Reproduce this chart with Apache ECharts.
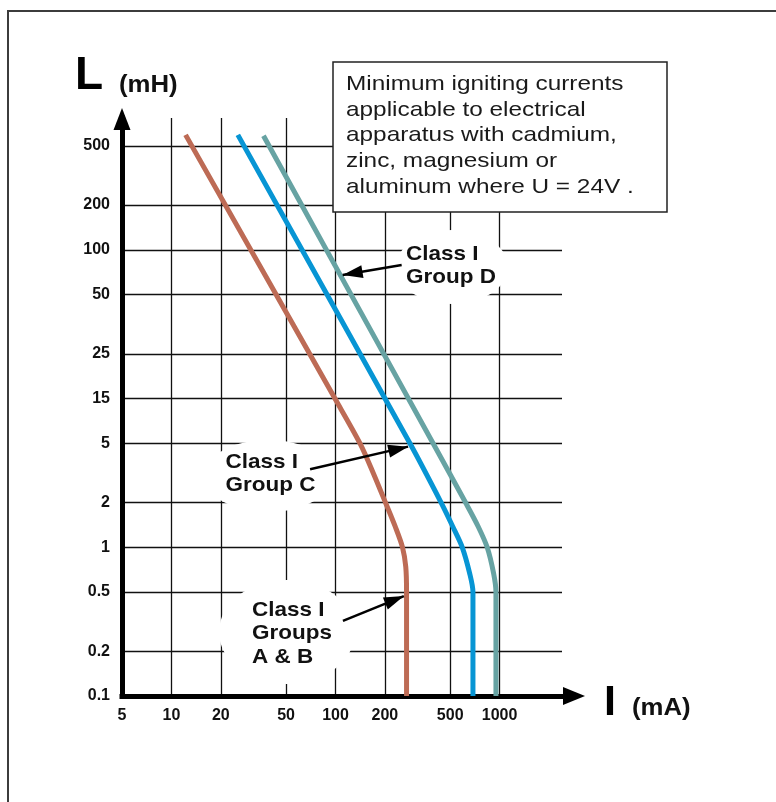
<!DOCTYPE html>
<html>
<head>
<meta charset="utf-8">
<title>Minimum igniting currents</title>
<script src="https://cdn.jsdelivr.net/npm/echarts@6.0.0/dist/echarts.min.js"></script>
<style>
  html, body { margin: 0; padding: 0; background: #fff; }
  #chart { width: 776px; height: 802px; }
</style>
</head>
<body>
<div id="chart"></div>
<script>
// I (mA) against L (mH)
const groupsAB = [[12.2, 593], [99.2, 10], [141, 5], [170, 3.15], [203, 1.96], [231, 1.38],
    [256, 1], [268, 0.74], [271, 0.5], [271, 0.1]];
const groupC = [[25.4, 593], [284, 5], [444, 1.96], [518, 1.38], [592, 1], [657, 0.668],
    [688, 0.5], [688, 0.1]];
const groupD = [[36.4, 585], [393, 5], [626, 1.96], [740, 1.38], [840, 1], [919, 0.668],
    [950, 0.5], [950, 0.1]];

// arrows from the labels to the curves, [from, to] in data units
const arrowD = [[253, 79.1], [110.6, 67.8]];
const arrowC = [[70, 3.35], [277, 4.75]];
const arrowAB = [[111, 0.32], [261, 0.47]];

// ticks
const xGridValues = [10, 20, 50, 100, 200, 500, 1000];
const xLabelValues = [5, 10, 20, 50, 100, 200, 500, 1000];
const yGridValues = [0.2, 0.5, 1, 2, 5, 10, 20, 50, 100, 200, 500];
const yLabelValues = [0.1, 0.2, 0.5, 1, 2, 5, 10, 20, 50, 100, 200, 500];
const yLabelTexts = ['0.1', '0.2', '0.5', '1', '2', '5', '15', '25', '50', '100', '200', '500'];

const boxLines = [
    'Minimum igniting currents',
    'applicable to electrical',
    'apparatus with cadmium,',
    'zinc, magnesium or',
    'aluminum where U = 24V .'
];

const FONT = '"Liberation Sans", Arial, Helvetica, sans-serif';

function yLabel(v) {
    let best = 0;
    for (let i = 1; i < yLabelValues.length; i++) {
        if (Math.abs(Math.log(v / yLabelValues[i])) < Math.abs(Math.log(v / yLabelValues[best]))) best = i;
    }
    return yLabelTexts[best];
}

function arrowLine(a) {
    return [
        { coord: a[0], symbol: 'none' },
        { coord: a[1], symbol: 'triangle', symbolSize: [13, 20], symbolOffset: [0, 10] }
    ];
}

const chart = echarts.init(document.getElementById('chart'));

const option = {
    animation: false,
    backgroundColor: '#fff',
    textStyle: { fontFamily: FONT },
    grid: { left: 122, right: 214, top: 118, bottom: 106, outerBoundsMode: 'none' },
    xAxis: {
        type: 'log',
        logBase: 10,
        min: 5,
        max: 2400,
        axisLine: {
            show: true,
            onZero: false,
            lineStyle: { color: '#000', width: 5, cap: 'square' },
            symbol: ['none', 'triangle'],
            symbolSize: [18, 22],
            symbolOffset: [0, 12]
        },
        axisTick: { show: false, customValues: xGridValues },
        axisLabel: {
            customValues: xLabelValues,
            margin: 12,
            color: '#111',
            fontSize: 16,
            fontWeight: 'bold',
            fontFamily: FONT,
            formatter: v => String(Math.round(v))
        },
        splitLine: { show: true, lineStyle: { color: '#111', width: 1.3 } },
        minorTick: { show: false },
        minorSplitLine: { show: false }
    },
    yAxis: {
        type: 'log',
        logBase: 10,
        min: 0.1,
        max: 770,
        axisLine: {
            show: true,
            onZero: false,
            lineStyle: { color: '#000', width: 5, cap: 'square' },
            symbol: ['none', 'triangle'],
            symbolSize: [17, 22],
            symbolOffset: [0, -1]
        },
        axisTick: { show: false, customValues: yGridValues },
        axisLabel: {
            customValues: yLabelValues,
            margin: 12,
            color: '#111',
            fontSize: 16,
            fontWeight: 'bold',
            fontFamily: FONT,
            formatter: yLabel
        },
        splitLine: { show: true, lineStyle: { color: '#111', width: 1.3 } },
        minorTick: { show: false },
        minorSplitLine: { show: false }
    },
    series: [
        {
            name: 'Class I Groups A & B',
            type: 'line',
            data: groupsAB,
            smooth: 0.3,
            symbol: 'none',
            lineStyle: { color: '#bd6b55', width: 5 },
            markLine: {
                silent: true,
                symbol: ['none', 'triangle'],
                label: { show: false },
                lineStyle: { color: '#000', width: 2.5, type: 'solid' },
                data: [arrowLine(arrowD), arrowLine(arrowC), arrowLine(arrowAB)]
            }
        },
        {
            name: 'Class I Group C',
            type: 'line',
            data: groupC,
            smooth: 0.3,
            symbol: 'none',
            lineStyle: { color: '#0795d4', width: 5 }
        },
        {
            name: 'Class I Group D',
            type: 'line',
            data: groupD,
            smooth: 0.3,
            symbol: 'none',
            lineStyle: { color: '#67a3a3', width: 5 }
        }
    ],
    graphic: [
        // frame
        { type: 'line', z: 5, shape: { x1: 7, y1: 11, x2: 776, y2: 11 }, style: { stroke: '#3c3c3c', lineWidth: 2 } },
        { type: 'line', z: 5, shape: { x1: 8, y1: 10, x2: 8, y2: 802 }, style: { stroke: '#3c3c3c', lineWidth: 2 } },
        // white patches behind the labels
        { type: 'ellipse', z: 1, shape: { cx: 452, cy: 267, rx: 56, ry: 37 }, style: { fill: '#fff' } },
        { type: 'ellipse', z: 1, shape: { cx: 268, cy: 476, rx: 64, ry: 36 }, style: { fill: '#fff' } },
        { type: 'ellipse', z: 1, shape: { cx: 287, cy: 632, rx: 68, ry: 52 }, style: { fill: '#fff' } },
        // note box
        { type: 'rect', z: 1, shape: { x: 333, y: 62, width: 334, height: 150 }, style: { fill: '#fff', stroke: '#222', lineWidth: 1.5 } },
        {
            type: 'text', z: 3, x: 346, y: 71.3, scaleX: 1.16,
            style: { text: boxLines.join('\n'), font: '21px ' + FONT, fill: '#1a1a1a', lineHeight: 25.7, verticalAlign: 'top' }
        },
        // curve labels
        {
            type: 'text', z: 3, x: 406, y: 243, scaleX: 1.07,
            style: { text: 'Class I\nGroup D', font: 'bold 21px ' + FONT, fill: '#111', lineHeight: 23, verticalAlign: 'top' }
        },
        {
            type: 'text', z: 3, x: 225.5, y: 451, scaleX: 1.07,
            style: { text: 'Class I\nGroup C', font: 'bold 21px ' + FONT, fill: '#111', lineHeight: 23, verticalAlign: 'top' }
        },
        {
            type: 'text', z: 3, x: 252, y: 598, scaleX: 1.07,
            style: { text: 'Class I\nGroups\nA & B', font: 'bold 21px ' + FONT, fill: '#111', lineHeight: 23.5, verticalAlign: 'top' }
        },
        // axis names
        {
            type: 'text', z: 3, x: 75, y: 76.5,
            style: { text: 'L', font: 'bold 46px ' + FONT, fill: '#000', verticalAlign: 'middle' }
        },
        {
            type: 'text', z: 3, x: 119, y: 85.5, scaleX: 1.12,
            style: { text: '(mH)', font: 'bold 23px ' + FONT, fill: '#111', verticalAlign: 'middle' }
        },
        {
            type: 'text', z: 3, x: 604, y: 703.5,
            style: { text: 'I', font: 'bold 43px ' + FONT, fill: '#000', verticalAlign: 'middle' }
        },
        {
            type: 'text', z: 3, x: 632, y: 709, scaleX: 1.12,
            style: { text: '(mA)', font: 'bold 23px ' + FONT, fill: '#111', verticalAlign: 'middle' }
        }
    ]
};

chart.setOption(option);
</script>
</body>
</html>
